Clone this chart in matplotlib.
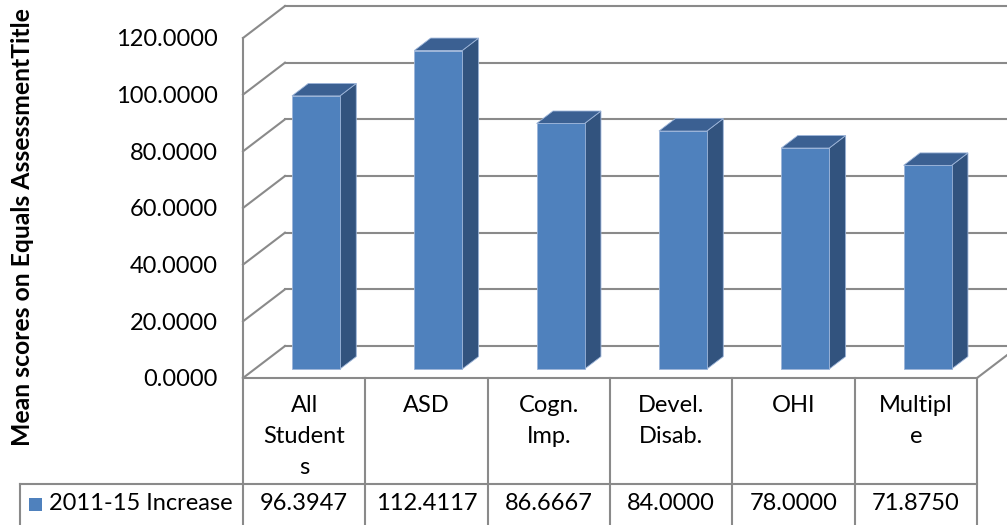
import matplotlib
matplotlib.use("Agg")
import matplotlib.pyplot as plt
from matplotlib.patches import Polygon, Rectangle
from matplotlib.transforms import blended_transform_factory
import numpy as np

# ---- data ----
categories = ["All\nStudent\ns", "ASD", "Cogn.\nImp.", "Devel.\nDisab.", "OHI", "Multipl\ne"]
values = [96.3947, 112.4117, 86.6667, 84.0000, 78.0000, 71.8750]
value_labels = ["96.3947", "112.4117", "86.6667", "84.0000", "78.0000", "71.8750"]
series_name = "2011-15 Increase"
y_ticks = [0, 20, 40, 60, 80, 100, 120]
y_title = "Mean scores on Equals AssessmentTitle"

# ---- style ----
FONT = "Lato"
FS = 17
GRID = "#8a8a8a"
FRONT = "#4F81BD"
TOP = "#3B6092"
SIDE = "#32537E"
EDGE = "#9DB5D9"

W, H, DPI = 1007, 525, 100
fig = plt.figure(figsize=(W / DPI, H / DPI), dpi=DPI)
plt.rcParams["font.family"] = [FONT, "DejaVu Sans"]


def fx(px):
    return px / W


def fy(py):
    return 1 - py / H


# plot area (front plane of the 3-D box)
left_px, right_px, top_px, base_px = 243, 977, 38, 378
ax = fig.add_axes([fx(left_px), fy(base_px), fx(right_px - left_px), (base_px - top_px) / H])
n = len(categories)
ax.set_xlim(0, n)
ax.set_ylim(0, 120)
for s in ax.spines.values():
    s.set_visible(False)
ax.set_xticks([])
ax.set_yticks(y_ticks)
ax.set_yticklabels([f"{t:.4f}" for t in y_ticks], fontsize=FS, color="#000000")
ax.tick_params(axis="y", length=0, pad=18)
ax.patch.set_alpha(0)

# depth offset of the box expressed in data units
DX = 42 / ((right_px - left_px) / n)
DY = 32 / ((base_px - top_px) / 120)

lw_grid = 1.5
# back wall gridlines and left wall lines
for t in y_ticks:
    ax.plot([DX, n + DX], [t + DY, t + DY], color=GRID, lw=lw_grid, clip_on=False, zorder=1)
    ax.plot([0, DX], [t, t + DY], color=GRID, lw=lw_grid, clip_on=False, zorder=1)
ax.plot([0, 0], [0, 120], color=GRID, lw=lw_grid, clip_on=False, zorder=1)
# floor edges
ax.plot([0, n], [0, 0], color=GRID, lw=lw_grid, clip_on=False, zorder=1)
ax.plot([n, n + DX], [0, DY], color=GRID, lw=lw_grid, clip_on=False, zorder=1)

# 3-D columns
bw = 0.392
f0, f1 = 0.28, 0.67
for i, v in enumerate(values):
    x0 = i + 0.5 - bw / 2
    x1 = x0 + bw
    ox0, oy0 = f0 * DX, f0 * DY
    ox1, oy1 = f1 * DX, f1 * DY
    front = [(x0 + ox0, oy0), (x1 + ox0, oy0), (x1 + ox0, v + oy0), (x0 + ox0, v + oy0)]
    side = [(x1 + ox0, oy0), (x1 + ox1, oy1), (x1 + ox1, v + oy1), (x1 + ox0, v + oy0)]
    top = [(x0 + ox0, v + oy0), (x1 + ox0, v + oy0), (x1 + ox1, v + oy1), (x0 + ox1, v + oy1)]
    for poly, col in ((side, SIDE), (top, TOP), (front, FRONT)):
        ax.add_patch(Polygon(poly, closed=True, facecolor=col, edgecolor=EDGE,
                             lw=0.6, clip_on=False, zorder=3))

# ---- data table below the plot ----
tr = blended_transform_factory(ax.transData, fig.transFigure)
row_split_px = 484
bottom_px = 530
for k in range(n + 1):
    ax.plot([k, k], [fy(base_px), fy(bottom_px)], color=GRID, lw=lw_grid,
            transform=tr, clip_on=False, zorder=1)
ax.plot([-(left_px - 20) / ((right_px - left_px) / n), n], [fy(row_split_px)] * 2,
        color=GRID, lw=lw_grid, transform=tr, clip_on=False, zorder=1)
# legend cell
fig.add_artist(plt.Line2D([fx(20), fx(20)], [fy(row_split_px), fy(bottom_px)],
                          color=GRID, lw=lw_grid))

for i, (cat, lab) in enumerate(zip(categories, value_labels)):
    ax.text(i + 0.5, fy(395), cat, transform=tr, ha="center", va="top",
            fontsize=FS, linespacing=1.6, clip_on=False)
    ax.text(i + 0.5, fy(504), lab, transform=tr, ha="center", va="center",
            fontsize=FS, clip_on=False)

fig.add_artist(Rectangle((fx(29), fy(511)), 13 / W, 13 / H, facecolor=FRONT,
                         edgecolor="none", transform=fig.transFigure))
fig.text(fx(49), fy(504), series_name, ha="left", va="center", fontsize=FS)

fig.text(fx(23), fy(227), y_title, rotation=90, ha="center", va="center",
         fontsize=17.8, fontweight="bold")

fig.savefig("out.png", dpi=DPI)
